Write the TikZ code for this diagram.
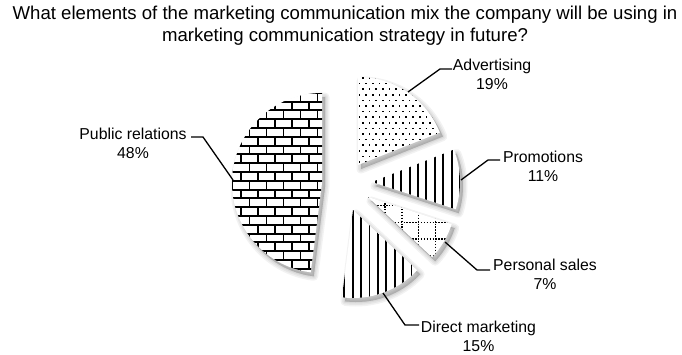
\documentclass[tikz,border=0pt]{standalone}
\usepackage{fontspec}
\setmainfont{Liberation Sans}
\begin{document}
\begin{tikzpicture}[x=1pt,y=1pt,yscale=-1,
  lbl/.style={align=center,font=\fontsize{15.8}{19}\selectfont,text=black,inner sep=0pt},
  ttl/.style={align=center,font=\fontsize{18.6}{22}\selectfont,text=black,inner sep=0pt},
  conn/.style={draw=black,line width=1.3pt,line join=miter},
  brick/.style={line width=1.9pt,black},
  stripe/.style={line width=2pt,black},
  dotline/.style={line width=1.4pt,black,dash pattern=on 1.4pt off 1.5pt},
  shadowlayer/.style={fill=black,draw=black,opacity=0.05,line join=round}]
\useasboundingbox (0,0) rectangle (682,354);
\newcommand\slc[5]{(#1,#2) -- ++({#3-90}:#5) arc[start angle={#3-90}, end angle={#4-90}, radius=#5] -- cycle}
% shadows
\foreach \w in {9,6,3,0.5}{
  \path[shadowlayer,line width=\w pt,shift={(3,4)}] \slc{358}{165}{0}{68.4}{88};
  \path[shadowlayer,line width=\w pt,shift={(3,4)}] \slc{372}{182}{68.4}{108}{88};
  \path[shadowlayer,line width=\w pt,shift={(3,4)}] \slc{368}{197}{108}{133.2}{88};
  \path[shadowlayer,line width=\w pt,shift={(3,4)}] \slc{353}{210}{133.2}{187.2}{88};
  \path[shadowlayer,line width=\w pt,shift={(3,4)}] \slc{322}{183}{187.2}{360}{90};
}
% Advertising: dots
\begin{scope}
  \clip \slc{358}{165}{0}{68.4}{88};
  \fill[white] (340,60) rectangle (460,180);
  \foreach \i in {0,...,17}{
    \pgfmathsetmacro{\yy}{78+5.6*\i}
    \pgfmathsetmacro{\off}{mod(\i,2)*3.35}
    \foreach \j in {0,...,14}{
      \fill[black] ({356+\off+6.7*\j-0.85},{\yy-0.85}) rectangle ++(1.7,1.7);
    }
  }
\end{scope}
% Promotions: vertical stripes
\begin{scope}
  \clip \slc{372}{182}{68.4}{108}{88};
  \fill[white] (360,130) rectangle (470,230);
  \foreach \k in {0,...,11}{
    \draw[stripe] ({376+8.4*\k},130) -- ({376+8.4*\k},230);
  }
\end{scope}
% Personal sales: dotted grid
\begin{scope}
  \clip \slc{368}{197}{108}{133.2}{88};
  \fill[white] (360,180) rectangle (470,270);
  \foreach \k in {-1,...,6}{
    \draw[dotline] ({368.2+16.8*\k},180) -- ({368.2+16.8*\k},270);
    \draw[dotline] (360,{205.5+16.8*\k}) -- (470,{205.5+16.8*\k});
  }
\end{scope}
% Direct marketing: vertical stripes
\begin{scope}
  \clip \slc{353}{210}{133.2}{187.2}{88};
  \fill[white] (330,200) rectangle (430,310);
  \foreach \k in {-1,...,10}{
    \draw[line width=1.8pt,black] ({352.7+8.4*\k},200) -- ({352.7+8.4*\k},310);
  }
\end{scope}
% Public relations: bricks
\begin{scope}
  \clip \slc{322}{183}{187.2}{360}{90};
  \fill[white] (220,85) rectangle (330,285);
  \foreach \i in {0,...,23}{
    \pgfmathsetmacro{\yy}{84+8.8*\i}
    \pgfmathsetmacro{\off}{mod(\i,2)*8.5}
    \draw[brick] (220,\yy) -- (330,\yy);
    \foreach \j in {-1,...,6}{
      \draw[brick] ({224+\off+17*\j},\yy) -- ++(0,8.8);
    }
  }
\end{scope}
% title
\node[ttl] (title) at (345,26) {What elements of the marketing communication mix the company will be using in\\marketing communication strategy in future?};
% labels
\node[lbl] (adv) at (492,74) {Advertising\\19\%};
\node[lbl] (pro) at (543,166) {Promotions\\11\%};
\node[lbl] (ps) at (545,274) {Personal sales\\7\%};
\node[lbl] (dm) at (478.5,336.5) {Direct marketing\\15\%};
\node[lbl] (pr) at (133,143) {Public relations\\48\%};
% connector points
\coordinate (advA) at (408,92);  \coordinate (advK) at (440,69);  \coordinate (advE) at (452,69);
\coordinate (proA) at (461,180); \coordinate (proK) at (488,160); \coordinate (proE) at (500,160);
\coordinate (psA) at (445,242);  \coordinate (psK) at (477,270);  \coordinate (psE) at (490,270);
\coordinate (dmA) at (383,293);  \coordinate (dmK) at (405,325);  \coordinate (dmE) at (419,325);
\coordinate (prA) at (233,180);  \coordinate (prK) at (203,137);  \coordinate (prE) at (191,137);
\draw[conn] (advA) -- (advK) -- (advE);
\draw[conn] (proA) -- (proK) -- (proE);
\draw[conn] (psA) -- (psK) -- (psE);
\draw[conn] (dmA) -- (dmK) -- (dmE);
\draw[conn] (prA) -- (prK) -- (prE);
\end{tikzpicture}
\end{document}
